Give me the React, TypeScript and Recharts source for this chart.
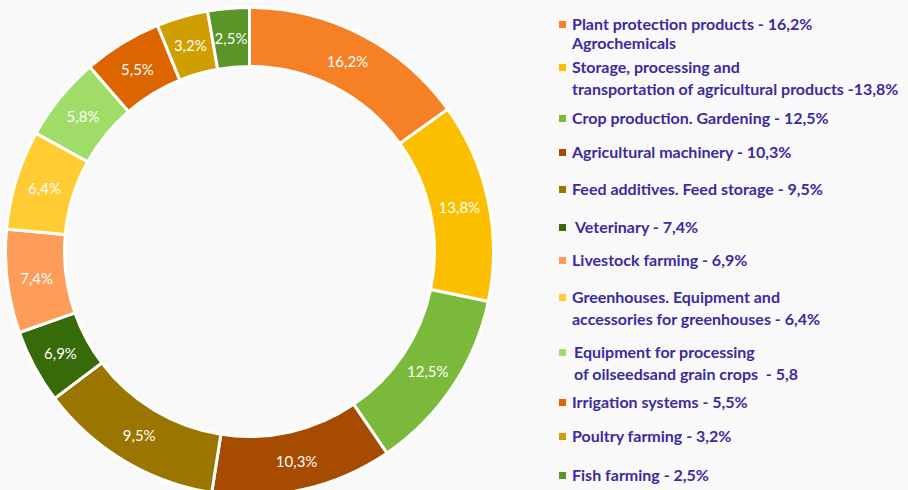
import React from "react";
import { PieChart, Pie, Cell, Legend } from "recharts";

// share of the ring each slice takes (percent of circle)
const arcShares = [15.1, 13.2, 12.2, 12.0, 12.25, 4.9, 6.85, 6.6, 5.6, 5.2, 3.4, 2.75];

// labels printed inside the slices
const sliceLabels = ["16,2%", "13,8%", "12,5%", "10,3%", "9,5%", "6,9%", "7,4%", "6,4%", "5,8%", "5,5%", "3,2%", "2,5%"];

const sliceColors = [
    "#F58025",
    "#FBBF00",
    "#7AB93A",
    "#A64B00",
    "#9A7500",
    "#376A08",
    "#FE9D5A",
    "#FFCC33",
    "#A0DC68",
    "#DD6500",
    "#CF9E00",
    "#5A9528",
];

const legendLines = [
    ["Plant protection products - 16,2%", "Agrochemicals"],
    ["Storage, processing and", "transportation of agricultural products -13,8%"],
    ["Crop production. Gardening - 12,5%"],
    ["Agricultural machinery - 10,3%"],
    ["Feed additives. Feed storage - 9,5%"],
    ["Veterinary - 7,4%"],
    ["Livestock farming - 6,9%"],
    ["Greenhouses. Equipment and", "accessories for greenhouses - 6,4%"],
    ["Equipment for processing", "of oilseedsand grain crops  - 5,8"],
    ["Irrigation systems - 5,5%"],
    ["Poultry farming - 3,2%"],
    ["Fish farming - 2,5%"],
];

// legend layout: centre y of first line, gap to second line, text x
const legendTops = [24, 67, 118, 152, 189, 227, 260, 297, 352, 402, 436, 475];
const legendGaps = [19, 22, 0, 0, 0, 0, 0, 22, 22, 0, 0, 0];
const legendIndent = [17, 17, 17, 17, 17, 20, 17, 17, 19, 17, 17, 17];

const data = arcShares.map((v, i) => ({ name: legendLines[i][0], value: v, label: sliceLabels[i] }));

const RAD = Math.PI / 180;

function SliceLabel(props: any) {
    const { cx, cy, midAngle, innerRadius, outerRadius, payload } = props;
    const r = (innerRadius + outerRadius) / 2;
    const x = cx + r * Math.cos(-midAngle * RAD);
    const y = cy + r * Math.sin(-midAngle * RAD);
    return (
        <text
            x={x}
            y={y}
            fill="#FFFFFF"
            textAnchor="middle"
            dominantBaseline="central"
            style={{ fontFamily: "Lato", fontSize: 15 }}
        >
            {payload.label}
        </text>
    );
}

function LegendBox() {
    return (
        <div style={{ position: "relative", width: 353, height: 490 }}>
            {legendLines.map((lines, i) => (
                <div key={i}>
                    <div
                        style={{
                            position: "absolute",
                            left: 4,
                            top: legendTops[i] - 3,
                            width: 7,
                            height: 7,
                            background: sliceColors[i],
                        }}
                    />
                    {lines.map((line, j) => (
                        <div
                            key={j}
                            style={{
                                position: "absolute",
                                left: legendIndent[i],
                                top: legendTops[i] + j * legendGaps[i] - 8,
                                lineHeight: "16px",
                                whiteSpace: "pre",
                                fontFamily: "Lato",
                                fontWeight: 700,
                                fontSize: 16,
                                color: "#3A2C9E",
                            }}
                        >
                            {line}
                        </div>
                    ))}
                </div>
            ))}
        </div>
    );
}

export default function App() {
    return (
        <div
            style={{
                position: "absolute",
                left: 0,
                top: 0,
                width: 908,
                height: 490,
                background: "#F9F9F9",
                overflow: "hidden",
            }}
        >
            <PieChart width={908} height={490} margin={{ top: 0, right: 0, bottom: 0, left: 0 }}>
                <Pie
                    data={data}
                    dataKey="value"
                    cx={249.5}
                    cy={251.5}
                    innerRadius={185}
                    outerRadius={244}
                    startAngle={90}
                    endAngle={-270}
                    stroke="#FFFFFF"
                    strokeWidth={3}
                    label={SliceLabel}
                    labelLine={false}
                    isAnimationActive={false}
                >
                    {data.map((d, i) => (
                        <Cell key={d.name} fill={sliceColors[i]} />
                    ))}
                </Pie>
                <Legend
                    content={() => <LegendBox />}
                    wrapperStyle={{ position: "absolute", left: 555, top: 0, width: 353, height: 490 }}
                />
            </PieChart>
        </div>
    );
}
